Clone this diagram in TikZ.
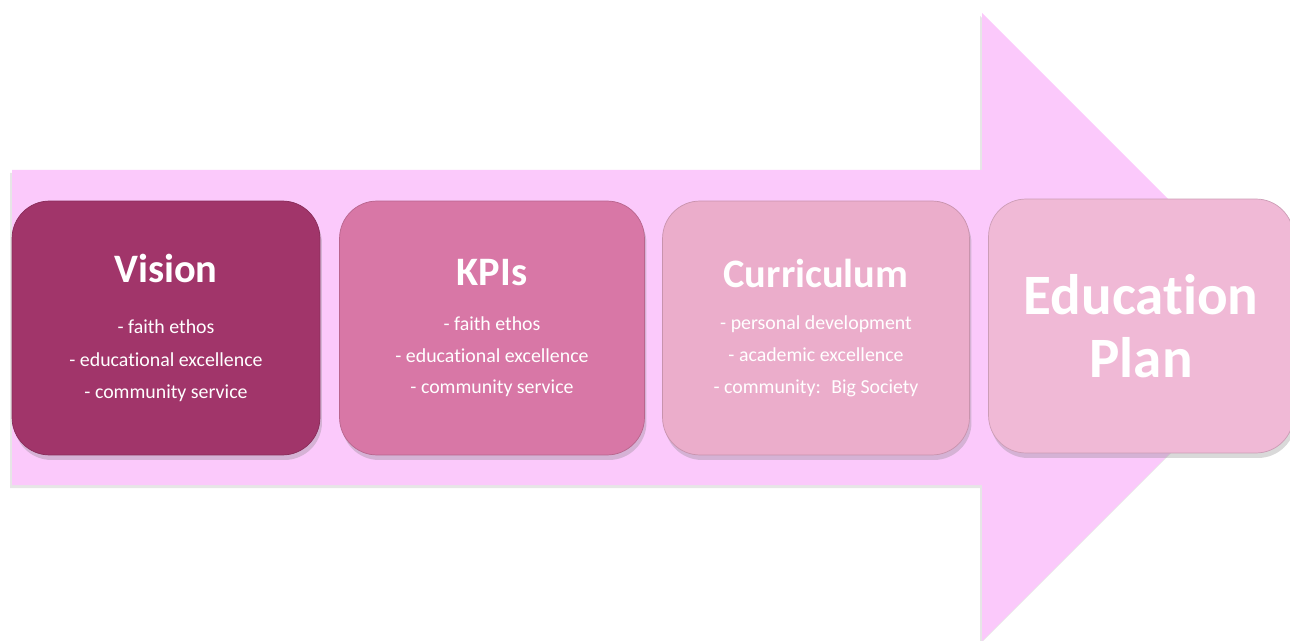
\documentclass[tikz,border=0pt]{standalone}
\usepackage{fontspec}
\setmainfont{Carlito}[Ligatures=NoCommon]
\usetikzlibrary{shadows}

\definecolor{arrowpink}{HTML}{FBC9FB}
\definecolor{visioncol}{HTML}{A1356A}
\definecolor{kpicol}{HTML}{D877A6}
\definecolor{currcol}{HTML}{EBADCB}
\definecolor{plancol}{HTML}{F0B9D6}

\tikzset{
    stagebox/.style={fill=#1, draw=#1!85!black, line width=0.4pt,
        rounded corners=0.75cm, minimum height=5.08cm, text=white,
        align=center, font=\fontsize{11.3}{18}\selectfont,
        drop shadow={opacity=0.3, shadow xshift=0.04cm, shadow yshift=-0.1cm}}
}
\newcommand{\stagehead}[2]{{\fontsize{23}{26}\selectfont\bfseries #1}\\[#2]}

\begin{document}
\begin{tikzpicture}[x=0.02cm, y=-0.02cm]
    \useasboundingbox (0,0) rectangle (1290,641);
    \clip (0,0) rectangle (1290,641);
    % big arrow behind the stages
    \fill[arrowpink, drop shadow={opacity=0.2, shadow xshift=-0.04cm, shadow yshift=-0.06cm}]
        (12,170) -- (982,170) -- (982,13) -- (1296,327) -- (982,641) -- (982,485) -- (12,485) -- cycle;
    % stages
    \node[stagebox=visioncol, minimum width=6.16cm] (vision) at (166,328)
        {\stagehead{Vision}{11pt}- faith ethos\\[1pt] - educational excellence\\ - community service};
    \node[stagebox=kpicol, minimum width=6.1cm] (kpis) at (492,328)
        {\stagehead{KPIs}{8pt}- faith ethos\\ - educational excellence\\ - community service};
    \node[stagebox=currcol, minimum width=6.14cm] (curriculum) at (816,328)
        {\stagehead{Curriculum}{6pt}- personal development\\ - academic excellence\\ - community:~ Big Society};
    \node[stagebox=plancol, minimum width=6.1cm, font=\fontsize{32.5}{36}\selectfont\bfseries] (plan) at (1141,326)
        {Education\\ Plan};
\end{tikzpicture}
\end{document}
